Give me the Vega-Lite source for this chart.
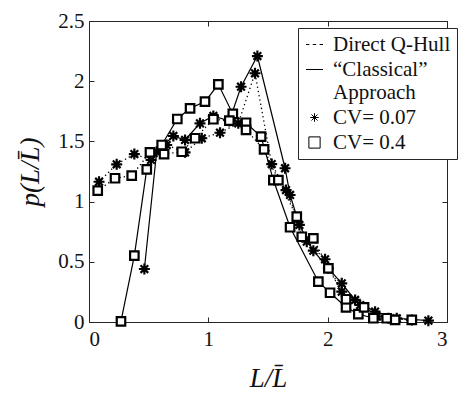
{
  "$schema": "https://vega.github.io/schema/vega-lite/v6.json",
  "width": 358,
  "height": 301,
  "autosize": "none",
  "padding": {"left": 89, "top": 21, "right": 14, "bottom": 71},
  "background": "white",
  "config": {
    "view": {"stroke": null},
    "font": "Liberation Serif",
    "legend": {"strokeWidth": 1},
    "axis": {
      "grid": false,
      "domainColor": "#262626",
      "tickColor": "#262626",
      "domainWidth": 1,
      "tickWidth": 1,
      "tickSize": -5,
      "labelFont": "Liberation Serif",
      "labelFontSize": 21,
      "labelColor": "#111111",
      "titleFont": "Liberation Serif",
      "titleFontSize": 27,
      "titleFontWeight": "normal",
      "titleFontStyle": "italic",
      "titleColor": "#111111"
    }
  },
  "data": {
    "values": [
      {"x": 0.464, "y": 0.44, "method": "Classical", "cv": "CV= 0.07"},
      {"x": 0.567, "y": 1.414, "method": "Classical", "cv": "CV= 0.07"},
      {"x": 0.707, "y": 1.545, "method": "Classical", "cv": "CV= 0.07"},
      {"x": 0.805, "y": 1.512, "method": "Classical", "cv": "CV= 0.07"},
      {"x": 0.93, "y": 1.65, "method": "Classical", "cv": "CV= 0.07"},
      {"x": 1.042, "y": 1.711, "method": "Classical", "cv": "CV= 0.07"},
      {"x": 1.176, "y": 1.669, "method": "Classical", "cv": "CV= 0.07"},
      {"x": 1.274, "y": 1.954, "method": "Classical", "cv": "CV= 0.07"},
      {"x": 1.411, "y": 2.209, "method": "Classical", "cv": "CV= 0.07"},
      {"x": 1.643, "y": 1.277, "method": "Classical", "cv": "CV= 0.07"},
      {"x": 1.685, "y": 1.055, "method": "Classical", "cv": "CV= 0.07"},
      {"x": 1.763, "y": 0.806, "method": "Classical", "cv": "CV= 0.07"},
      {"x": 1.88, "y": 0.592, "method": "Classical", "cv": "CV= 0.07"},
      {"x": 2.006, "y": 0.446, "method": "Classical", "cv": "CV= 0.07"},
      {"x": 2.118, "y": 0.321, "method": "Classical", "cv": "CV= 0.07"},
      {"x": 2.23, "y": 0.183, "method": "Classical", "cv": "CV= 0.07"},
      {"x": 2.397, "y": 0.086, "method": "Classical", "cv": "CV= 0.07"},
      {"x": 2.579, "y": 0.031, "method": "Classical", "cv": "CV= 0.07"},
      {"x": 2.844, "y": 0.011, "method": "Classical", "cv": "CV= 0.07"},

      {"x": 0.084, "y": 1.165, "method": "Direct Q-Hull", "cv": "CV= 0.07"},
      {"x": 0.232, "y": 1.31, "method": "Direct Q-Hull", "cv": "CV= 0.07"},
      {"x": 0.38, "y": 1.395, "method": "Direct Q-Hull", "cv": "CV= 0.07"},
      {"x": 0.52, "y": 1.346, "method": "Direct Q-Hull", "cv": "CV= 0.07"},
      {"x": 0.651, "y": 1.47, "method": "Direct Q-Hull", "cv": "CV= 0.07"},
      {"x": 0.805, "y": 1.409, "method": "Direct Q-Hull", "cv": "CV= 0.07"},
      {"x": 0.945, "y": 1.526, "method": "Direct Q-Hull", "cv": "CV= 0.07"},
      {"x": 1.098, "y": 1.572, "method": "Direct Q-Hull", "cv": "CV= 0.07"},
      {"x": 1.251, "y": 1.65, "method": "Direct Q-Hull", "cv": "CV= 0.07"},
      {"x": 1.391, "y": 2.066, "method": "Direct Q-Hull", "cv": "CV= 0.07"},
      {"x": 1.531, "y": 1.312, "method": "Direct Q-Hull", "cv": "CV= 0.07"},
      {"x": 1.651, "y": 1.096, "method": "Direct Q-Hull", "cv": "CV= 0.07"},
      {"x": 1.825, "y": 0.667, "method": "Direct Q-Hull", "cv": "CV= 0.07"},
      {"x": 1.978, "y": 0.521, "method": "Direct Q-Hull", "cv": "CV= 0.07"},
      {"x": 2.118, "y": 0.252, "method": "Direct Q-Hull", "cv": "CV= 0.07"},
      {"x": 2.272, "y": 0.141, "method": "Direct Q-Hull", "cv": "CV= 0.07"},
      {"x": 2.412, "y": 0.044, "method": "Direct Q-Hull", "cv": "CV= 0.07"},
      {"x": 2.509, "y": 0.031, "method": "Direct Q-Hull", "cv": "CV= 0.07"},
      {"x": 2.705, "y": 0.017, "method": "Direct Q-Hull", "cv": "CV= 0.07"},

      {"x": 0.268, "y": 0.005, "method": "Classical", "cv": "CV= 0.4"},
      {"x": 0.38, "y": 0.551, "method": "Classical", "cv": "CV= 0.4"},
      {"x": 0.484, "y": 1.268, "method": "Classical", "cv": "CV= 0.4"},
      {"x": 0.609, "y": 1.47, "method": "Classical", "cv": "CV= 0.4"},
      {"x": 0.74, "y": 1.686, "method": "Classical", "cv": "CV= 0.4"},
      {"x": 0.847, "y": 1.775, "method": "Classical", "cv": "CV= 0.4"},
      {"x": 0.972, "y": 1.83, "method": "Classical", "cv": "CV= 0.4"},
      {"x": 1.084, "y": 1.974, "method": "Classical", "cv": "CV= 0.4"},
      {"x": 1.205, "y": 1.728, "method": "Classical", "cv": "CV= 0.4"},
      {"x": 1.316, "y": 1.655, "method": "Classical", "cv": "CV= 0.4"},
      {"x": 1.442, "y": 1.539, "method": "Classical", "cv": "CV= 0.4"},
      {"x": 1.545, "y": 1.179, "method": "Classical", "cv": "CV= 0.4"},
      {"x": 1.685, "y": 0.787, "method": "Classical", "cv": "CV= 0.4"},
      {"x": 1.922, "y": 0.335, "method": "Classical", "cv": "CV= 0.4"},
      {"x": 2.02, "y": 0.243, "method": "Classical", "cv": "CV= 0.4"},
      {"x": 2.154, "y": 0.122, "method": "Classical", "cv": "CV= 0.4"},
      {"x": 2.257, "y": 0.066, "method": "Classical", "cv": "CV= 0.4"},
      {"x": 2.383, "y": 0.031, "method": "Classical", "cv": "CV= 0.4"},
      {"x": 2.565, "y": 0.017, "method": "Classical", "cv": "CV= 0.4"},

      {"x": 0.073, "y": 1.091, "method": "Direct Q-Hull", "cv": "CV= 0.4"},
      {"x": 0.218, "y": 1.194, "method": "Direct Q-Hull", "cv": "CV= 0.4"},
      {"x": 0.358, "y": 1.215, "method": "Direct Q-Hull", "cv": "CV= 0.4"},
      {"x": 0.511, "y": 1.409, "method": "Direct Q-Hull", "cv": "CV= 0.4"},
      {"x": 0.629, "y": 1.395, "method": "Direct Q-Hull", "cv": "CV= 0.4"},
      {"x": 0.777, "y": 1.414, "method": "Direct Q-Hull", "cv": "CV= 0.4"},
      {"x": 0.889, "y": 1.526, "method": "Direct Q-Hull", "cv": "CV= 0.4"},
      {"x": 1.042, "y": 1.684, "method": "Direct Q-Hull", "cv": "CV= 0.4"},
      {"x": 1.176, "y": 1.672, "method": "Direct Q-Hull", "cv": "CV= 0.4"},
      {"x": 1.316, "y": 1.595, "method": "Direct Q-Hull", "cv": "CV= 0.4"},
      {"x": 1.467, "y": 1.434, "method": "Direct Q-Hull", "cv": "CV= 0.4"},
      {"x": 1.587, "y": 1.179, "method": "Direct Q-Hull", "cv": "CV= 0.4"},
      {"x": 1.741, "y": 0.875, "method": "Direct Q-Hull", "cv": "CV= 0.4"},
      {"x": 1.783, "y": 0.708, "method": "Direct Q-Hull", "cv": "CV= 0.4"},
      {"x": 1.88, "y": 0.695, "method": "Direct Q-Hull", "cv": "CV= 0.4"},
      {"x": 2.006, "y": 0.446, "method": "Direct Q-Hull", "cv": "CV= 0.4"},
      {"x": 2.154, "y": 0.189, "method": "Direct Q-Hull", "cv": "CV= 0.4"},
      {"x": 2.305, "y": 0.122, "method": "Direct Q-Hull", "cv": "CV= 0.4"},
      {"x": 2.495, "y": 0.031, "method": "Direct Q-Hull", "cv": "CV= 0.4"},
      {"x": 2.705, "y": 0.017, "method": "Direct Q-Hull", "cv": "CV= 0.4"}
    ]
  },
  "layer": [
    {
      "transform": [{"filter": "datum.method == 'Classical'"}],
      "mark": {"type": "line", "color": "black", "strokeWidth": 1.2},
      "encoding": {
        "x": {
          "field": "x", "type": "quantitative",
          "scale": {"domain": [0, 3], "nice": false},
          "axis": {"orient": "bottom", "values": [0, 1, 2, 3], "labelPadding": 11, "title": "L/L̄", "titlePadding": 16}
        },
        "y": {
          "field": "y", "type": "quantitative",
          "scale": {"domain": [0, 2.5], "nice": false},
          "axis": {"orient": "left", "values": [0, 0.5, 1, 1.5, 2, 2.5], "format": ".1~f", "labelPadding": 10, "title": "p(L/L̄)", "titlePadding": 13}
        },
        "detail": {"field": "cv", "type": "nominal"}
      }
    },
    {
      "transform": [{"filter": "datum.method == 'Direct Q-Hull'"}],
      "mark": {"type": "line", "color": "black", "strokeWidth": 1.3, "strokeDash": [1.3, 3]},
      "encoding": {
        "x": {"field": "x", "type": "quantitative", "scale": {"domain": [0, 3], "nice": false}, "axis": null},
        "y": {"field": "y", "type": "quantitative", "scale": {"domain": [0, 2.5], "nice": false}, "axis": null},
        "detail": {"field": "cv", "type": "nominal"}
      }
    },
    {
      "mark": {"type": "point", "fill": "white", "stroke": "black", "strokeWidth": 2.2, "opacity": 1},
      "encoding": {
        "x": {
          "field": "x", "type": "quantitative",
          "scale": {"domain": [0, 3], "nice": false},
          "axis": {"orient": "top", "values": [0, 1, 2, 3], "labels": false, "title": null}
        },
        "y": {
          "field": "y", "type": "quantitative",
          "scale": {"domain": [0, 2.5], "nice": false},
          "axis": {"orient": "right", "values": [0, 0.5, 1, 1.5, 2, 2.5], "labels": false, "title": null}
        },
        "size": {
          "field": "cv", "type": "ordinal",
          "scale": {"domain": ["CV= 0.07", "CV= 0.4"], "range": [484, 166]},
          "legend": null
        },
        "shape": {
          "field": "cv", "type": "nominal",
          "scale": {
            "domain": ["Direct Q-Hull", "Classical", "CV= 0.07", "CV= 0.4"],
            "range": [
              "M-1,0H-0.6M-0.2,0H0.2M0.6,0H1",
              "M-1,0H1",
              "M0,-0.5V0.5M-0.5,0H0.5M-0.35,-0.35L0.35,0.35M-0.35,0.35L0.35,-0.35",
              "M-0.66,-0.66H0.66V0.66H-0.66Z"
            ]
          },
          "legend": {
            "orient": "none",
            "legendX": 209,
            "legendY": 7,
            "title": null,
            "fillColor": "white",
            "strokeColor": "#262626",
            "padding": 6,
            "labelFont": "Liberation Serif",
            "labelFontSize": 21,
            "labelColor": "#111111",
            "labelLimit": 300,
            "labelLineHeight": 22,
            "labelOffset": 8,
            "rowPadding": 3,
            "symbolSize": 289,
            "symbolStrokeWidth": 1,
            "labelExpr": "datum.label == 'Classical' ? ['“Classical”', 'Approach'] : datum.label"
          }
        }
      }
    }
  ],
  "resolve": {"axis": {"x": "independent", "y": "independent"}}
}
